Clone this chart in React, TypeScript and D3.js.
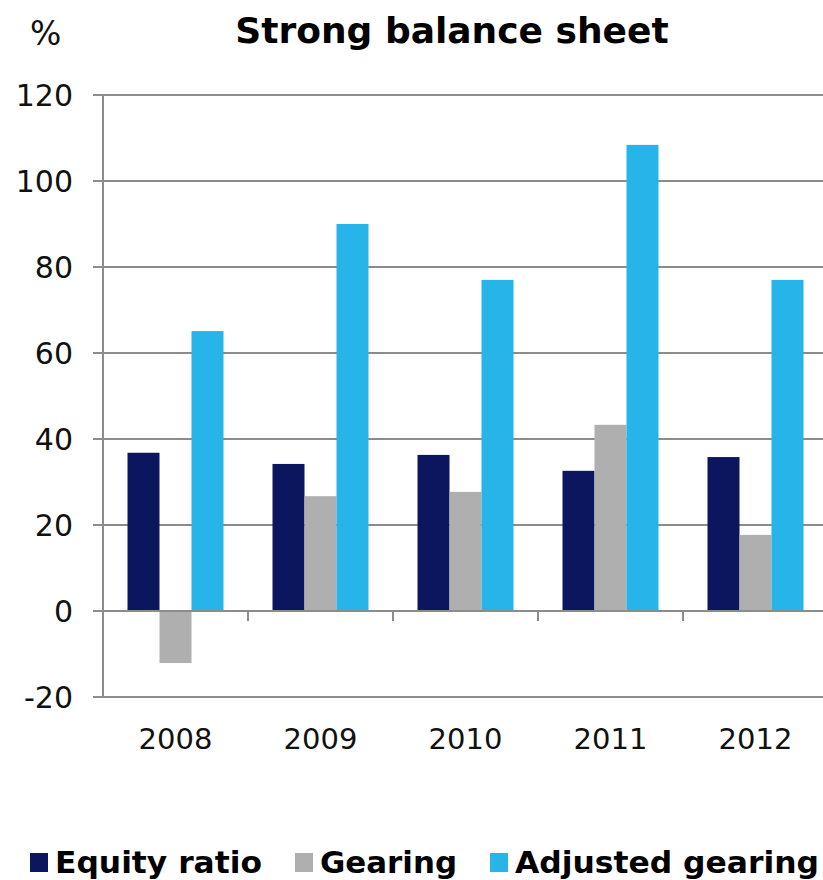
import React from "react";
import * as d3 from "d3";

const years = ["2008", "2009", "2010", "2011", "2012"];
const equityRatio = [36.8, 34.2, 36.3, 32.6, 35.8];
const gearing = [-12.1, 26.7, 27.7, 43.3, 17.7];
const adjustedGearing = [65.1, 90.0, 77.0, 108.4, 77.0];
const seriesNames = ["Equity ratio", "Gearing", "Adjusted gearing"];
const seriesColors = ["#0c165e", "#afafaf", "#27b4e8"];
const yTicks = [-20, 0, 20, 40, 60, 80, 100, 120];

export default function App() {
  const W = 823, H = 880;
  const left = 103, right = 828, top = 95, bottom = 697;
  const y = d3.scaleLinear().domain([-20, 120]).range([bottom, top]);
  const x = d3.scaleBand().domain(years).range([left, right]).paddingInner(0).paddingOuter(0);
  const inner = d3.scaleBand().domain(seriesNames).range([0, 96]);
  const groupOffset = (x.bandwidth() - 96) / 2;
  const series = [equityRatio, gearing, adjustedGearing];
  const font = "'DejaVu Sans', Verdana, sans-serif";
  const gridColor = "#8c8c8c";
  const legendX = [30, 295, 490];
  const legendLen = [207, 137, 304];

  return (
    <svg width={W} height={H} style={{ position: "absolute", left: 0, top: 0 }}>
      <rect width={W} height={H} fill="#fff" />
      <text x={30} y={45} fontFamily={font} fontSize={33} fill="#111">%</text>
      <text x={452} y={43} textAnchor="middle" fontFamily={font} fontSize={36} fontWeight="bold" fill="#000">
        Strong balance sheet
      </text>
      {yTicks.map((t) => (
        <g key={t}>
          <line x1={93} x2={W} y1={y(t)} y2={y(t)} stroke={gridColor} strokeWidth={2} />
          <text x={73} y={y(t) + 11} textAnchor="end" fontFamily={font} fontSize={30} fill="#111">
            {t}
          </text>
        </g>
      ))}
      <line x1={left} x2={left} y1={top} y2={bottom} stroke={gridColor} strokeWidth={2} />
      {years.map((yr, i) => (
        <g key={yr}>
          {series.map((s, j) => {
            const v = s[i];
            const bx = (x(yr) as number) + groupOffset + (inner(seriesNames[j]) as number);
            return (
              <rect
                key={j}
                x={bx}
                y={Math.min(y(v), y(0))}
                width={inner.bandwidth()}
                height={Math.abs(y(v) - y(0))}
                fill={seriesColors[j]}
              />
            );
          })}
          <text
            x={(x(yr) as number) + x.bandwidth() / 2}
            y={749}
            textAnchor="middle"
            fontFamily={font}
            fontSize={29}
            fill="#111"
          >
            {yr}
          </text>
        </g>
      ))}
      <line x1={93} x2={W} y1={y(0)} y2={y(0)} stroke={gridColor} strokeWidth={2} />
      {years.slice(1).map((yr) => (
        <line key={yr} x1={x(yr) as number} x2={x(yr) as number} y1={y(0)} y2={y(0) + 10} stroke={gridColor} strokeWidth={2} />
      ))}
      {seriesNames.map((n, i) => (
        <g key={n}>
          <rect x={legendX[i]} y={853} width={18} height={19} fill={seriesColors[i]} />
          <text
            x={legendX[i] + 25}
            y={873}
            fontFamily={font}
            fontWeight="bold"
            fontSize={30}
            textLength={legendLen[i]}
            lengthAdjust="spacingAndGlyphs"
            fill="#000"
          >
            {n}
          </text>
        </g>
      ))}
    </svg>
  );
}
